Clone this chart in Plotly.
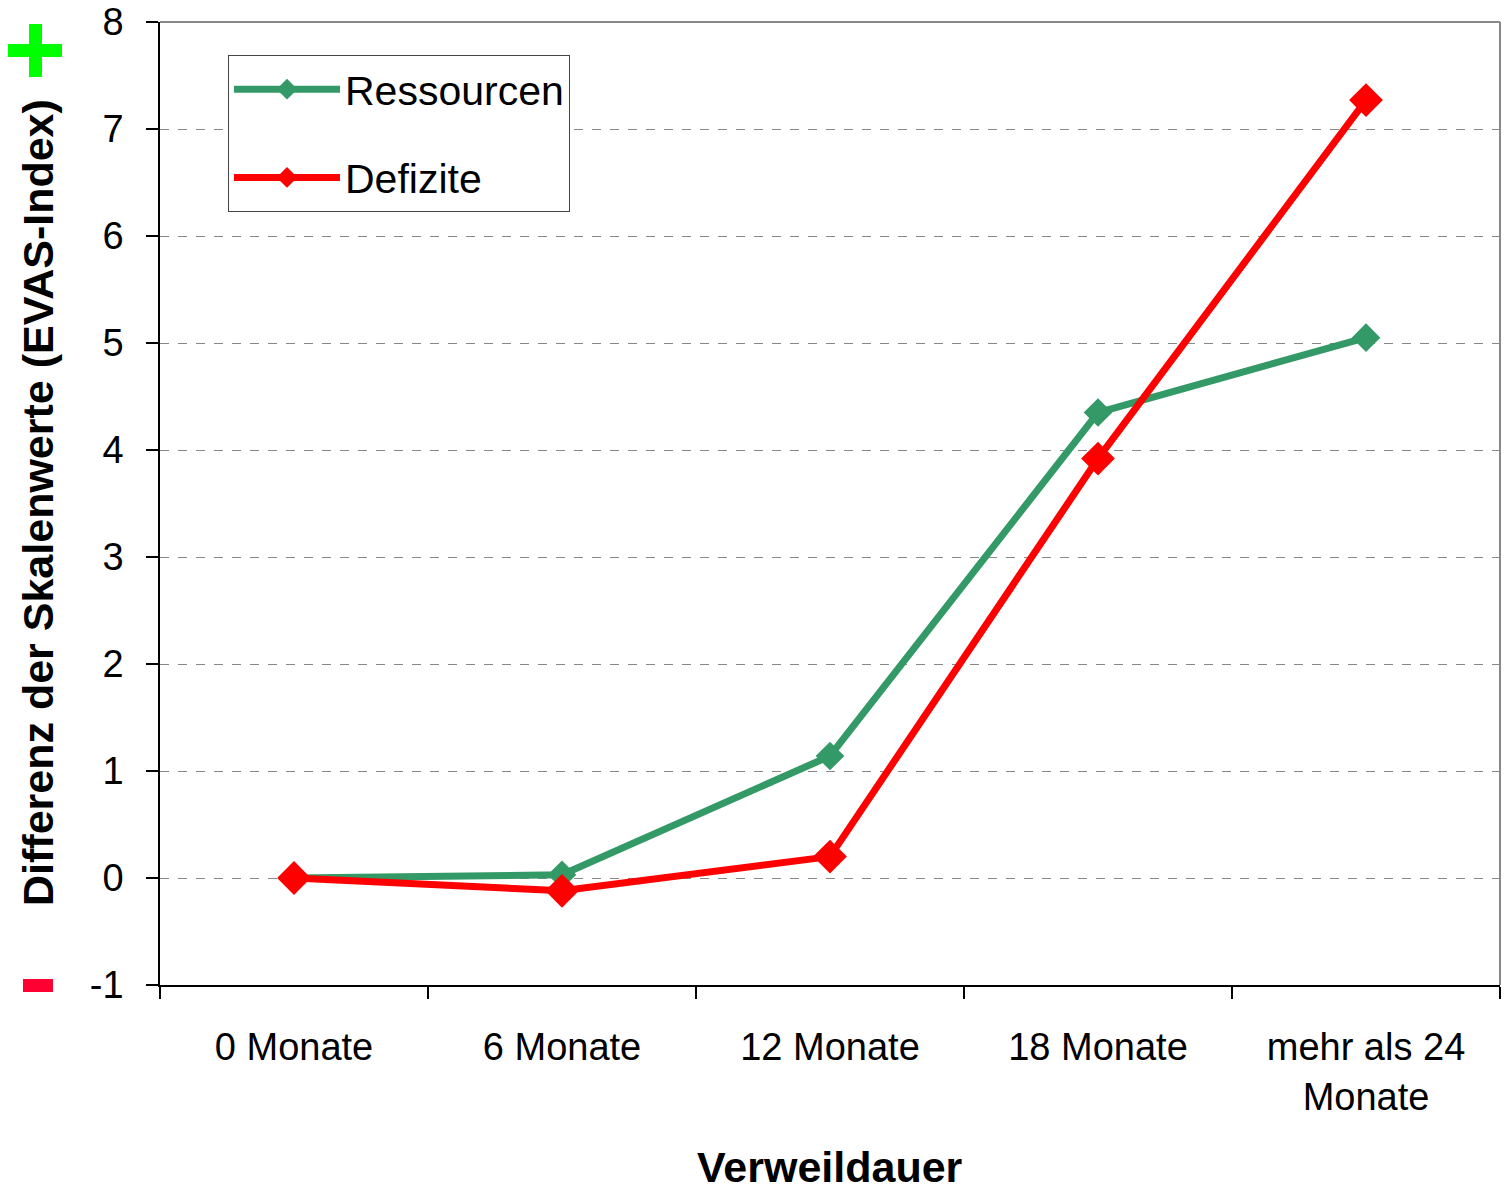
import plotly.graph_objects as go

categories = ["0 Monate", "6 Monate", "12 Monate", "18 Monate", "mehr als 24<br>Monate"]
ressourcen = [0.0, 0.03, 1.14, 4.35, 5.05]
defizite = [0.0, -0.12, 0.20, 3.92, 7.27]
y_ticks = [-1, 0, 1, 2, 3, 4, 5, 6, 7, 8]
y_ticktext = ["-1", "0", "1", "2", "3", "4", "5", "6", "7", "8"]

W, H = 1510, 1191
L, R, T, B = 160, 10, 22, 206
pw, ph = W - L - R, H - T - B
PLOT_L, PLOT_T = L, T
PLOT_B = PLOT_T + ph

def px(x):
    return (x - PLOT_L) / pw

def py(y):
    return (PLOT_B - y) / ph

FONT = "Liberation Sans, Arial, sans-serif"

fig = go.Figure()
fig.add_trace(go.Scatter(
    x=categories, y=ressourcen, name="Ressourcen", mode="lines+markers",
    line=dict(color="#339966", width=7),
    marker=dict(symbol="diamond", size=22, color="#339966"),
    legendgroup="a",
))
fig.add_trace(go.Scatter(
    x=categories, y=defizite, name="Defizite", mode="lines+markers",
    line=dict(color="#FF0000", width=7),
    marker=dict(symbol="diamond", size=26, color="#FF0000"),
    legendgroup="b",
))

fig.update_layout(
    width=W, height=H,
    margin=dict(l=L, r=R, t=T, b=B, autoexpand=False),
    paper_bgcolor="white", plot_bgcolor="white",
    font=dict(family=FONT, size=38, color="black"),
    showlegend=True,
    legend=dict(
        x=px(228), y=py(55), xanchor="left", yanchor="top",
        bordercolor="#444444", borderwidth=1, bgcolor="white",
        font=dict(size=41), tracegroupgap=32, traceorder="grouped",
        itemwidth=106,
    ),
    xaxis=dict(
        type="category", categoryorder="array", categoryarray=categories,
        range=[-0.5, 4.5], tickson="boundaries", ticks="outside", ticklen=12,
        tickcolor="black", tickwidth=1.5, automargin=False,
        showline=True, linecolor="black", linewidth=1.5,
        showgrid=False, ticklabelstandoff=28,
        tickfont=dict(size=38), ticklabeloverflow="allow",
    ),
    yaxis=dict(
        range=[-1, 8], tickvals=y_ticks, ticktext=y_ticktext,
        ticks="outside", ticklen=12, automargin=False,
        tickcolor="black", tickwidth=1.5,
        showline=True, linecolor="black", linewidth=1.5,
        showgrid=True, gridcolor="#888888", gridwidth=1, griddash="dash",
        zeroline=False, ticklabelstandoff=15,
        tickfont=dict(size=38), ticklabeloverflow="allow",
    ),
)

# top and right frame
fig.add_shape(type="line", xref="paper", yref="paper", x0=0, x1=1, y0=1, y1=1,
              line=dict(color="#888888", width=2))
fig.add_shape(type="line", xref="paper", yref="paper", x0=1, x1=1, y0=0, y1=1,
              line=dict(color="#888888", width=2))

# green plus sign and red minus sign
fig.add_shape(type="rect", xref="paper", yref="paper",
              x0=px(8), x1=px(62), y0=py(57), y1=py(44),
              fillcolor="#00FF00", line=dict(width=0))
fig.add_shape(type="rect", xref="paper", yref="paper",
              x0=px(29), x1=px(42), y0=py(77), y1=py(24),
              fillcolor="#00FF00", line=dict(width=0))
fig.add_shape(type="rect", xref="paper", yref="paper",
              x0=px(23), x1=px(53), y0=py(992), y1=py(979),
              fillcolor="#FF0033", line=dict(width=0))

fig.add_annotation(
    text="<b>Differenz der Skalenwerte (EVAS-Index)</b>",
    xref="paper", yref="paper", x=px(38), y=py(503),
    textangle=-90, showarrow=False, font=dict(size=43),
    xanchor="center", yanchor="middle",
)
fig.add_annotation(
    text="<b>Verweildauer</b>",
    xref="paper", yref="paper", x=px(830), y=py(1167),
    showarrow=False, font=dict(size=43),
    xanchor="center", yanchor="middle",
)

fig.write_html(
    "out.html",
    config={"displayModeBar": False},
    post_script="document.body.style.margin='0';document.body.style.padding='0';",
)
